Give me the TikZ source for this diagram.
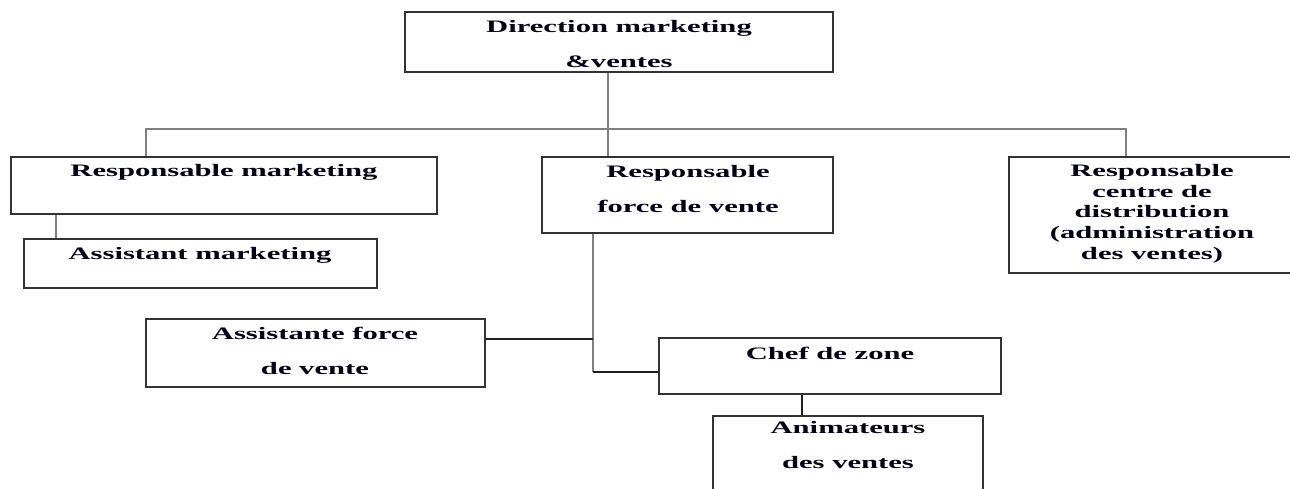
\documentclass[tikz,border=0pt]{standalone}
\usepackage{fontspec}
\setmainfont{Liberation Serif}[FakeStretch=1.75]
\tikzset{
  box/.style={draw=black!80, line width=1.6pt, inner sep=0pt},
  lbl/.style={font=\bfseries\fontsize{17.5}{35}\selectfont, align=center, inner sep=0pt, text=black!92!blue},
  lbltight/.style={lbl, font=\bfseries\fontsize{17.5}{20.7}\selectfont},
  link/.style={draw=black!50, line width=1.4pt},
  linkd/.style={draw=black!88, line width=1.3pt},
}
\begin{document}
\begin{tikzpicture}[x=1pt,y=-1pt]
\useasboundingbox (0,0) rectangle (1290,489);
% boxes
\node[box, minimum width=428pt, minimum height=60pt]  (dir) at (619,42)   {};
\node[box, minimum width=426pt, minimum height=57pt]  (rm)  at (224,185.5) {};
\node[box, minimum width=353pt, minimum height=49pt]  (am)  at (200.5,263.5) {};
\node[box, minimum width=291pt, minimum height=76pt]  (rfv) at (687.5,195) {};
\node[box, minimum width=290pt, minimum height=116pt] (rcd) at (1154,215) {};
\node[box, minimum width=339pt, minimum height=68pt]  (afv) at (315.5,353) {};
\node[box, minimum width=342pt, minimum height=56pt]  (cz)  at (830,366)  {};
\node[box, minimum width=270pt, minimum height=100pt] (an)  at (848,466)  {};
% texts
\node[lbl] (tdir) at (619,44.5) {Direction marketing\\\&ventes};
\node[lbl] (trm)  at (224,172) {Responsable marketing};
\node[lbl] (tam)  at (200,255) {Assistant marketing};
\node[lbl] (trfv) at (688,189) {Responsable\\force de vente};
\node[lbltight] (trcd) at (1152,213.5) {Responsable\\centre de\\distribution\\(administration\\des ventes)};
\node[lbl] (tafv) at (315,350.5) {Assistante force\\de vente};
\node[lbl] (tcz)  at (830,353) {Chef de zone};
\node[lbl] (tan)  at (848,445.5) {Animateurs\\des ventes};
% connector coordinates
\coordinate (bus)  at (608,129);
\coordinate (busL) at (146,129);
\coordinate (busR) at (1126,129);
\coordinate (amx)  at (56,0);
\coordinate (fvb)  at (593,372);
\coordinate (fva)  at (593,339);
\coordinate (czx)  at (802,0);
% connectors
\draw[link] (bus |- dir.south) -- (bus |- rfv.north);
\draw[link] (busL |- rm.north) -- (busL) -- (busR) -- (busR |- rcd.north);
\draw[link] (amx |- rm.south) -- (amx |- am.north);
\draw[link] (fvb |- rfv.south) -- (fvb);
\draw[linkd] (fvb) -- (fvb -| cz.west);
\draw[linkd] (fva -| afv.east) -- (fva);
\draw[linkd] (czx |- cz.south) -- (czx |- an.north);
\end{tikzpicture}
\end{document}
